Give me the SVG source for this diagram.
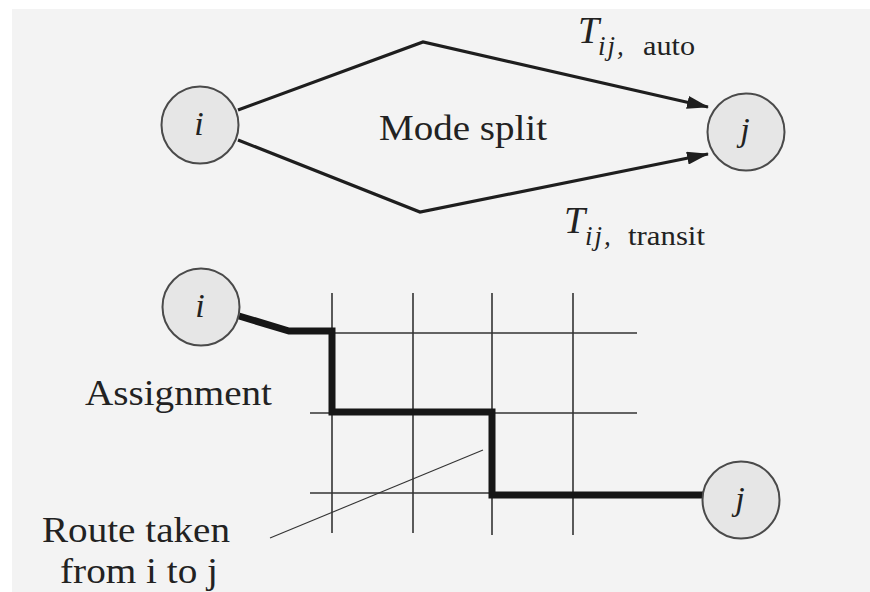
<svg xmlns="http://www.w3.org/2000/svg" width="870" height="592" viewBox="0 0 870 592">
  <defs>
    <style>
      .paper { fill: #f3f3f3; }
      .node { fill: #e6e6e6; stroke: #4a4a4a; stroke-width: 2; }
      .serif { font-family: 'Liberation Serif', 'DejaVu Serif', 'Times New Roman', Times, serif; fill: #222; }
      .nlabel { font-style: italic; font-size: 34px; text-anchor: middle; }
      .label { font-size: 36px; }
      .tbig { font-style: italic; font-size: 38px; }
      .tsub { font-style: italic; font-size: 27px; letter-spacing: 2px; }
      .tmode { font-size: 28px; }
      .mode { fill: none; stroke: #1e1e1e; stroke-width: 3.2; stroke-linejoin: miter; }
      .grid { fill: none; stroke: #333; stroke-width: 1.6; }
      .route { fill: none; stroke: #161616; stroke-width: 7; stroke-linejoin: miter; }
      .pointer { fill: none; stroke: #333; stroke-width: 1.1; }
    </style>
    <marker id="arrow" viewBox="0 0 22 13" refX="21" refY="6.5" markerWidth="22" markerHeight="13" markerUnits="userSpaceOnUse" orient="auto">
      <path d="M0,0 L22,6.5 L0,13 Z" fill="#1e1e1e"/>
    </marker>
  </defs>

  <!-- page tone -->
  <rect x="0" y="0" width="870" height="592" fill="#ffffff"/>
  <rect class="paper" x="12" y="9" width="858" height="583"/>

  <!-- connectors -->
  <g id="connectors">
    <!-- mode split -->
    <polyline class="mode" points="238,110 423,42 708,107" marker-end="url(#arrow)"/>
    <polyline class="mode" points="238,140 420,212 708,154" marker-end="url(#arrow)"/>

    <!-- street grid -->
    <g id="grid">
      <line class="grid" x1="332" y1="293" x2="332" y2="533"/>
      <line class="grid" x1="413" y1="293" x2="413" y2="533"/>
      <line class="grid" x1="492" y1="293" x2="492" y2="535"/>
      <line class="grid" x1="573" y1="293" x2="573" y2="535"/>
      <line class="grid" x1="332" y1="333" x2="637" y2="333"/>
      <line class="grid" x1="310" y1="413" x2="637" y2="413"/>
      <line class="grid" x1="310" y1="493" x2="492" y2="493"/>
    </g>

    <!-- assigned route -->
    <polyline class="route" points="239,316 289,331 332,331 332,412 492,412 492,495 703,495"/>

    <!-- leader for the route label -->
    <line class="pointer" x1="270" y1="538" x2="483" y2="450"/>
  </g>

  <!-- nodes -->
  <g id="node-i-top">
    <circle class="node" cx="200" cy="125" r="38.5"/>
    <text class="serif nlabel" x="199" y="135">i</text>
  </g>
  <g id="node-j-top">
    <circle class="node" cx="746" cy="132" r="38.5"/>
    <text class="serif nlabel" x="745" y="141">j</text>
  </g>
  <g id="node-i-bottom">
    <circle class="node" cx="201" cy="307" r="38.5"/>
    <text class="serif nlabel" x="200" y="317">i</text>
  </g>
  <g id="node-j-bottom">
    <circle class="node" cx="741" cy="500" r="38.5"/>
    <text class="serif nlabel" x="740" y="510">j</text>
  </g>

  <!-- labels -->
  <g id="labels">
    <text class="serif label" x="379" y="140" textLength="168" lengthAdjust="spacingAndGlyphs">Mode split</text>

    <text class="serif tbig" x="578" y="43">T</text>
    <text class="serif tsub" x="598" y="55">ij,</text>
    <text class="serif tmode" x="643" y="55" textLength="52" lengthAdjust="spacingAndGlyphs">auto</text>

    <text class="serif tbig" x="564" y="233">T</text>
    <text class="serif tsub" x="585" y="245">ij,</text>
    <text class="serif tmode" x="628" y="245" textLength="77" lengthAdjust="spacingAndGlyphs">transit</text>

    <text class="serif label" x="85" y="405" textLength="187" lengthAdjust="spacingAndGlyphs">Assignment</text>
    <text class="serif label" x="42" y="542" textLength="188" lengthAdjust="spacingAndGlyphs">Route taken</text>
    <text class="serif label" x="60" y="583" textLength="158" lengthAdjust="spacingAndGlyphs">from i to j</text>
  </g>
</svg>
